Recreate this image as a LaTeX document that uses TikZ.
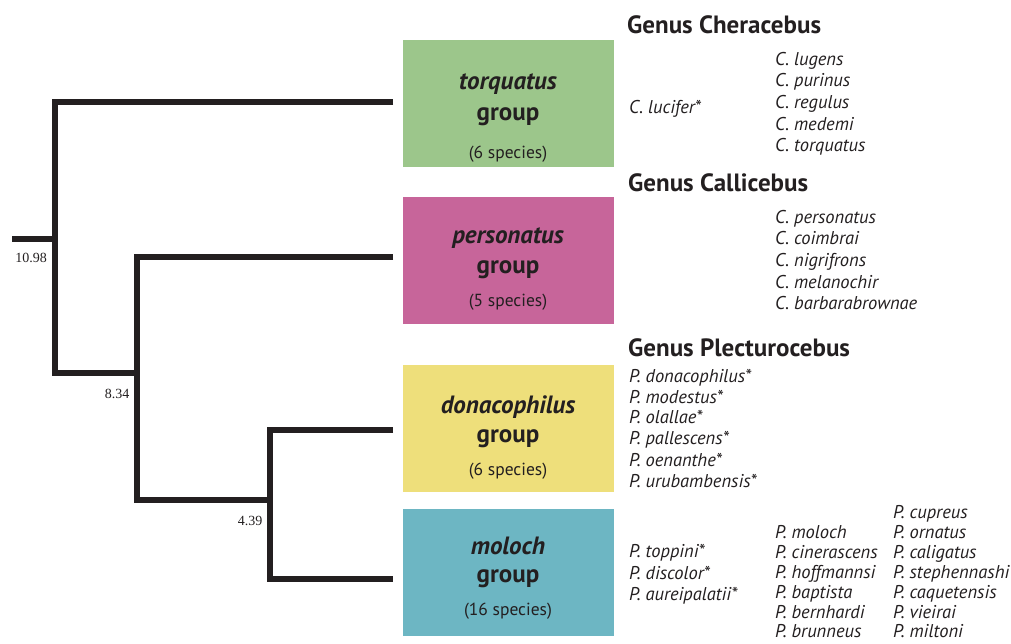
\documentclass[tikz,border=0pt]{standalone}
\usepackage{fontspec}
\setmainfont{PT Sans}
\newfontfamily\numfont{Liberation Serif}
\definecolor{txt}{HTML}{231F20}
\definecolor{cgreen}{HTML}{9CC68B}
\definecolor{cpink}{HTML}{C7659A}
\definecolor{cyellow}{HTML}{EEDF7B}
\definecolor{cteal}{HTML}{6DB6C3}
\begin{document}
\begin{tikzpicture}[x=1pt,y=-1pt,
  branch/.style={line width=6.8pt, color=txt},
  grp/.style={minimum width=211pt, minimum height=127pt, inner sep=0pt, anchor=north west, draw=none},
  gtitle/.style={font=\fontsize{25}{28}\selectfont\bfseries\itshape, text=txt},
  gword/.style={font=\fontsize{25}{28}\selectfont\bfseries, text=txt},
  gcount/.style={font=\fontsize{17.5}{20}\selectfont, text=txt},
  genus/.style={font=\fontsize{25}{28}\selectfont\bfseries, text=txt, anchor=base west, inner sep=0pt},
  sp/.style={font=\fontsize{18.5}{21}\selectfont\itshape, text=txt, anchor=base west, inner sep=0pt},
  age/.style={font=\fontsize{14}{16}\selectfont\numfont, text=txt, inner sep=0pt}]
\useasboundingbox (0,0) rectangle (1011,643);
% group boxes
\node[grp, fill=cgreen] (torq) at (403,40) {};
\node[grp, fill=cpink] (pers) at (403,197) {};
\node[grp, fill=cyellow] (dona) at (403,365) {};
\node[grp, fill=cteal] (molo) at (403,509) {};
% box texts
\node[gtitle] (t1) at (508,84) {torquatus};
\node[gword] (t2) at (508,117) {group};
\node[gcount] (t3) at (508,154) {(6 species)};
\node[gtitle] (p1) at (508,238) {personatus};
\node[gword] (p2) at (508,270) {group};
\node[gcount] (p3) at (508,302) {(5 species)};
\node[gtitle] (d1) at (508,407) {donacophilus};
\node[gword] (d2) at (508,439) {group};
\node[gcount] (d3) at (508,471) {(6 species)};
\node[gtitle] (m1) at (508,546) {moloch};
\node[gword] (m2) at (508,579) {group};
\node[gcount] (m3) at (508,611) {(16 species)};
% tree
\coordinate (root) at (12,239);
\coordinate (n1) at (55,239);
\coordinate (n1t) at (55,102);
\coordinate (n1b) at (55,373);
\coordinate (n2) at (137,373);
\coordinate (n2t) at (137,257);
\coordinate (n2b) at (137,500);
\coordinate (n3) at (270,500);
\coordinate (n3t) at (270,430);
\coordinate (n3b) at (270,579);
\coordinate (e1) at (393,102);
\coordinate (e2) at (393,257);
\coordinate (e3) at (393,430);
\coordinate (e4) at (393,579);
\draw[branch] (root) -- (n1);
\draw[branch, line join=miter] (e1) -- (n1t) -- (n1b) -- (n2);
\draw[branch, line join=miter] (e2) -- (n2t) -- (n2b) -- (n3);
\draw[branch, line join=miter] (e3) -- (n3t) -- (n3b) -- (e4);
\node[age, anchor=center] (a1) at (31,258) {10.98};
\node[age, anchor=center] (a2) at (117,394) {8.34};
\node[age, anchor=center] (a3) at (250,521) {4.39};
% genus headings
\node[genus] (g1) at (627,33) {Genus Cheracebus};
\node[genus] (g2) at (628,191) {Genus Callicebus};
\node[genus] (g3) at (628,356) {Genus Plecturocebus};
% Cheracebus
\node[sp] (s1) at (629,113) {C. lucifer*};
\node[sp] at (775,65) {C. lugens};
\node[sp] at (775,86) {C. purinus};
\node[sp] at (775,108) {C. regulus};
\node[sp] at (775,130) {C. medemi};
\node[sp] at (775,151) {C. torquatus};
% Callicebus
\node[sp] at (775,223) {C. personatus};
\node[sp] at (775,244) {C. coimbrai};
\node[sp] at (775,266) {C. nigrifrons};
\node[sp] at (775,288) {C. melanochir};
\node[sp] at (775,309) {C. barbarabrownae};
% donacophilus
\node[sp] at (629,382) {P. donacophilus*};
\node[sp] at (629,403) {P. modestus*};
\node[sp] at (629,423) {P. olallae*};
\node[sp] at (629,444) {P. pallescens*};
\node[sp] at (629,466) {P. oenanthe*};
\node[sp] at (629,487) {P. urubambensis*};
% moloch
\node[sp] at (629,557) {P. toppini*};
\node[sp] at (629,579) {P. discolor*};
\node[sp] at (629,600) {P. aureipalatii*};
\node[sp] at (775,538) {P. moloch};
\node[sp] at (775,558) {P. cinerascens};
\node[sp] at (775,578) {P. hoffmannsi};
\node[sp] at (775,598) {P. baptista};
\node[sp] at (775,618) {P. bernhardi};
\node[sp] at (775,637) {P. brunneus};
\node[sp] at (893,518) {P. cupreus};
\node[sp] at (893,538) {P. ornatus};
\node[sp] at (893,558) {P. caligatus};
\node[sp] at (893,578) {P. stephennashi};
\node[sp] at (893,598) {P. caquetensis};
\node[sp] at (893,618) {P. vieirai};
\node[sp] at (893,637) {P. miltoni};
\end{tikzpicture}
\end{document}
